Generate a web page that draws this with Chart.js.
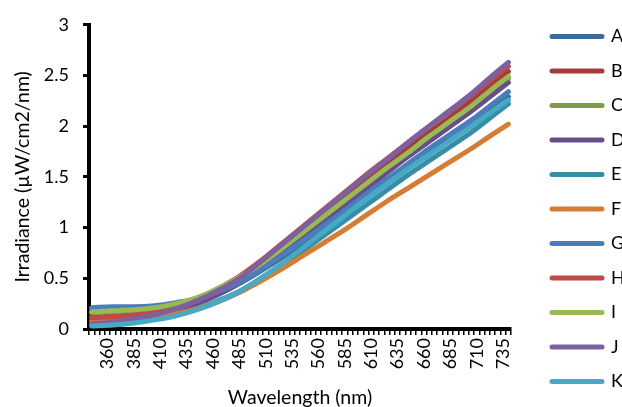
<!DOCTYPE html>
<html>
<head>
<meta charset="utf-8">
<script src="https://cdn.jsdelivr.net/npm/chart.js@4"></script>
<style>
  html, body { margin: 0; padding: 0; background: #fff; }
  #wrap { width: 622px; height: 407px; }
</style>
</head>
<body>
<div id="wrap"><canvas id="irrChart"></canvas></div>
<script>
const wavelengths = [345, 365, 385, 405, 425, 445, 465, 485, 505, 525, 545, 565, 585, 605, 625, 645, 665, 685, 705, 725, 740];
const tickLabels = [360, 385, 410, 435, 460, 485, 510, 535, 560, 585, 610, 635, 660, 685, 710, 735];
const seriesNames = ['A', 'B', 'C', 'D', 'E', 'F', 'G', 'H', 'I', 'J', 'K'];

const serA = [0.20, 0.21, 0.21, 0.22, 0.24, 0.29, 0.36, 0.45, 0.57, 0.70, 0.85, 1.00, 1.15, 1.30, 1.45, 1.60, 1.74, 1.88, 2.02, 2.17, 2.29];
const serB = [0.12, 0.13, 0.15, 0.18, 0.22, 0.29, 0.38, 0.50, 0.64, 0.80, 0.97, 1.13, 1.29, 1.46, 1.62, 1.78, 1.94, 2.09, 2.25, 2.42, 2.54];
const serC = [0.16, 0.17, 0.18, 0.20, 0.24, 0.30, 0.38, 0.49, 0.62, 0.77, 0.93, 1.09, 1.25, 1.41, 1.57, 1.72, 1.88, 2.03, 2.18, 2.35, 2.47];
const serD = [0.06, 0.08, 0.10, 0.13, 0.18, 0.25, 0.34, 0.45, 0.59, 0.74, 0.90, 1.06, 1.22, 1.38, 1.54, 1.70, 1.85, 2.00, 2.15, 2.31, 2.43];
const serE = [0.04, 0.05, 0.07, 0.10, 0.14, 0.20, 0.28, 0.37, 0.49, 0.62, 0.77, 0.92, 1.07, 1.22, 1.37, 1.52, 1.66, 1.80, 1.94, 2.10, 2.22];
const serF = [0.08, 0.09, 0.10, 0.12, 0.15, 0.20, 0.27, 0.36, 0.47, 0.59, 0.72, 0.85, 0.98, 1.12, 1.26, 1.39, 1.52, 1.65, 1.78, 1.92, 2.02];
const serG = [0.21, 0.22, 0.22, 0.23, 0.26, 0.30, 0.37, 0.46, 0.58, 0.72, 0.87, 1.02, 1.17, 1.33, 1.48, 1.63, 1.78, 1.92, 2.06, 2.22, 2.34];
const serH = [0.11, 0.12, 0.14, 0.17, 0.22, 0.30, 0.40, 0.52, 0.67, 0.84, 1.01, 1.18, 1.35, 1.52, 1.68, 1.84, 2.00, 2.15, 2.30, 2.47, 2.59];
const serI = [0.17, 0.18, 0.19, 0.21, 0.25, 0.31, 0.40, 0.51, 0.64, 0.79, 0.95, 1.11, 1.27, 1.43, 1.59, 1.74, 1.90, 2.05, 2.20, 2.37, 2.49];
const serJ = [0.05, 0.07, 0.10, 0.14, 0.20, 0.28, 0.38, 0.50, 0.66, 0.83, 1.00, 1.17, 1.34, 1.51, 1.67, 1.84, 2.00, 2.16, 2.32, 2.50, 2.63];
const serK = [0.03, 0.04, 0.06, 0.09, 0.13, 0.19, 0.27, 0.37, 0.50, 0.64, 0.80, 0.96, 1.12, 1.28, 1.43, 1.58, 1.72, 1.86, 2.00, 2.15, 2.26];

const allSeries = [serA, serB, serC, serD, serE, serF, serG, serH, serI, serJ, serK];
const colors = ['#3c6a9e', '#a03d3b', '#7f9b48', '#664e88', '#378da5', '#d57d33',
                '#4a7ebb', '#be4b48', '#98b954', '#7d60a0', '#46aac5'];

const FONT = 'Lato, "Open Sans", sans-serif';

// Excel draws later series on top; Chart.js draws dataset 0 on top -> reverse
const datasets = seriesNames.map((name, i) => ({
  label: name,
  data: wavelengths.map((w, j) => ({ x: w, y: allSeries[i][j] })),
  borderColor: colors[i],
  backgroundColor: colors[i],
  borderWidth: 5,
  pointRadius: 0,
  borderCapStyle: 'round',
  borderJoinStyle: 'round',
  cubicInterpolationMode: 'monotone',
  fill: false
})).reverse();

const hidden = {
  display: true,
  grid: { display: false },
  border: { display: false },
  ticks: { display: false }
};

new Chart(document.getElementById('irrChart'), {
  type: 'line',
  data: { datasets: datasets },
  options: {
    responsive: true,
    maintainAspectRatio: false,
    animation: false,
    layout: { padding: 0 },
    plugins: {
      tooltip: { enabled: false },
      legend: {
        position: 'right',
        reverse: true,
        maxWidth: 86.5,
        title: { display: true, text: '', font: { size: 1, lineHeight: 1 }, padding: { top: 10, bottom: 0 } },
        labels: {
          color: '#000',
          font: { family: FONT, size: 18 },
          padding: 16.5,
          usePointStyle: true,
          pointStyleWidth: 50,
          generateLabels: (chart) => chart.data.datasets.map((ds, i) => ({
            text: ds.label,
            fillStyle: ds.borderColor,
            strokeStyle: ds.borderColor,
            lineWidth: 5,
            lineCap: 'round',
            pointStyle: 'line',
            fontColor: '#000',
            datasetIndex: i,
            hidden: false
          }))
        }
      }
    },
    scales: {
      x: {
        type: 'linear',
        min: 342.5,
        max: 742.5,
        afterBuildTicks: (scale) => {
          const ticks = [];
          for (let w = wavelengths[0]; w <= wavelengths[wavelengths.length - 1]; w += 5) ticks.push({ value: w });
          scale.ticks = ticks;
        },
        afterFit: (scale) => { scale.height = 78; },
        grid: { drawOnChartArea: false, offset: true, color: '#000', lineWidth: 1.5, tickLength: 6 },
        border: { color: '#000', width: 4 },
        ticks: {
          autoSkip: false,
          minRotation: 90,
          maxRotation: 90,
          padding: 3,
          color: '#000',
          font: { family: FONT, size: 18 },
          callback: (v) => tickLabels.includes(v) ? String(v) : ''
        },
        title: {
          display: true,
          text: 'Wavelength (nm)',
          color: '#000',
          font: { family: FONT, size: 19.5 },
          padding: { top: 0, bottom: -2 }
        }
      },
      y: {
        min: 0,
        max: 3,
        afterFit: (scale) => { scale.width = 89; },
        grid: { drawOnChartArea: false, color: '#000', lineWidth: 3, tickLength: 6 },
        border: { color: '#000', width: 4 },
        ticks: {
          stepSize: 0.5,
          padding: 14,
          color: '#000',
          font: { family: FONT, size: 18 },
          callback: (v) => String(v)
        },
        title: {
          display: true,
          text: 'Irradiance (µW/cm2/nm)',
          color: '#000',
          font: { family: FONT, size: 19.5 },
          padding: { top: 11, bottom: 0 }
        }
      },
      topGap: Object.assign({ type: 'linear', position: 'top', afterFit: (s) => { s.height = 20; } }, hidden),
      rightGap: Object.assign({ type: 'linear', position: 'right', afterFit: (s) => { s.width = 24.5; } }, hidden)
    }
  }
});
</script>
</body>
</html>
